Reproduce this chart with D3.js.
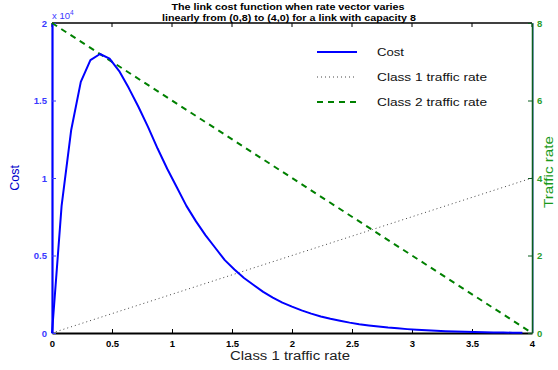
<!DOCTYPE html>
<html>
<head>
<meta charset="utf-8">
<script src="https://cdn.jsdelivr.net/npm/d3@7"></script>
<style>
  body { margin: 0; background: #fff; }
  svg { display: block; font-family: "Liberation Sans", Arial, sans-serif; }
</style>
</head>
<body>
<svg id="chart" width="558" height="370"></svg>
<script>
// Class 1 rate sampled along the path (0,8) -> (4,0)
const costX = [0, 0.08, 0.16, 0.24, 0.32, 0.40, 0.48, 0.56, 0.64, 0.72,
  0.80, 0.88, 0.96, 1.04, 1.12, 1.20, 1.28, 1.36, 1.44, 1.52,
  1.60, 1.68, 1.76, 1.84, 1.92, 2.00, 2.08, 2.16, 2.24, 2.32,
  2.40, 2.48, 2.56, 2.64, 2.72, 2.80, 2.88, 2.96, 3.04, 3.12,
  3.20, 3.28, 3.36, 3.44, 3.52, 3.60, 3.68, 3.76, 3.84, 3.92];
// Link cost, units of 1e4
const costY = [0, 0.82, 1.31, 1.62, 1.76, 1.80, 1.77, 1.69, 1.58, 1.46,
  1.33, 1.19, 1.06, 0.94, 0.82, 0.72, 0.63, 0.55, 0.47, 0.41,
  0.355, 0.31, 0.265, 0.228, 0.196, 0.170, 0.146, 0.125, 0.107, 0.092,
  0.079, 0.067, 0.057, 0.049, 0.042, 0.035, 0.030, 0.025, 0.021, 0.018,
  0.015, 0.012, 0.010, 0.008, 0.007, 0.005, 0.004, 0.003, 0.002, 0.001];
const rateX = [0, 4];
const class1Rate = [0, 4];
const class2Rate = [8, 0];

const xTicks = [0, 0.5, 1, 1.5, 2, 2.5, 3, 3.5, 4];
const costTicks = [0, 0.5, 1, 1.5, 2];
const rateTicks = [0, 2, 4, 6, 8];
const legendLabels = ['Cost', 'Class 1 traffic rate', 'Class 2 traffic rate'];

const svg = d3.select('#chart');
const margin = { top: 23, right: 26, bottom: 37, left: 52 };
const W = 558, H = 370;
const innerW = W - margin.left - margin.right;
const innerH = H - margin.top - margin.bottom;
const g = svg.append('g').attr('transform', `translate(${margin.left},${margin.top})`);

const x = d3.scaleLinear().domain([0, 4]).range([0, innerW]);
const yCost = d3.scaleLinear().domain([0, 2]).range([innerH, 0]);
const yRate = d3.scaleLinear().domain([0, 8]).range([innerH, 0]);

const blue = '#0000ff', tickBlue = '#3a3aff';
const green = '#008000', tickGreen = '#2a9d2a';

// top frame line with inward ticks
g.append('line').attr('x1', 0).attr('x2', innerW).attr('y1', 0).attr('y2', 0)
  .style('stroke', '#000').style('stroke-width', 1.5);
g.selectAll('line.top-tick').data(xTicks).enter().append('line')
  .attr('class', 'top-tick')
  .attr('x1', d => x(d)).attr('x2', d => x(d)).attr('y1', 0).attr('y2', 4)
  .style('stroke', '#000');

// bottom axis
const xAxis = g.append('g').attr('transform', `translate(0,${innerH})`)
  .call(d3.axisBottom(x).tickValues(xTicks).tickSizeInner(-4).tickSizeOuter(0).tickPadding(7)
    .tickFormat(d3.format('')));
xAxis.select('.domain').style('stroke', '#000').style('stroke-width', 2.2);
xAxis.selectAll('text').style('font-size', '9.5px').style('font-weight', 'bold').style('fill', '#000');

// left axis (cost)
const yAxisL = g.append('g')
  .call(d3.axisLeft(yCost).tickValues(costTicks).tickSizeInner(-4).tickSizeOuter(0).tickPadding(5)
    .tickFormat(d3.format('')));
yAxisL.select('.domain').style('stroke', blue).style('stroke-width', 2.2);
yAxisL.selectAll('.tick line').style('stroke', tickBlue);
yAxisL.selectAll('text').style('font-size', '9.5px').style('font-weight', 'bold').style('fill', tickBlue);

// right axis (traffic rate)
g.append('line').attr('x1', innerW + 1.5).attr('x2', innerW + 1.5).attr('y1', 0).attr('y2', innerH)
  .style('stroke', '#8fa8d8').style('stroke-width', 1);
const yAxisR = g.append('g').attr('transform', `translate(${innerW},0)`)
  .call(d3.axisRight(yRate).tickValues(rateTicks).tickSizeInner(-4).tickSizeOuter(0).tickPadding(5));
yAxisR.select('.domain').style('stroke', '#0b5e1e').style('stroke-width', 1.5);
yAxisR.selectAll('.tick line').style('stroke', '#0b5e1e');
yAxisR.selectAll('text').style('font-size', '9.5px').style('font-weight', 'bold').style('fill', tickGreen);

// series
const rateLine = d3.line().x((d, i) => x(rateX[i])).y(d => yRate(d));
g.append('path').datum(class1Rate)
  .attr('d', rateLine)
  .style('fill', 'none').style('stroke', '#444').style('stroke-width', 1)
  .style('stroke-dasharray', '1,3');

g.append('path').datum(class2Rate)
  .attr('d', rateLine)
  .style('fill', 'none').style('stroke', green).style('stroke-width', 2)
  .style('stroke-dasharray', '6,5');

const costLine = d3.line().x((d, i) => x(costX[i])).y(d => yCost(d));
g.append('path').datum(costY)
  .attr('d', costLine)
  .style('fill', 'none').style('stroke', blue).style('stroke-width', 2)
  .style('stroke-linejoin', 'round');

// exponent label
const expo = svg.append('text').attr('x', 52).attr('y', 19)
  .style('font-size', '9.5px').style('fill', tickBlue);
expo.append('tspan').text('x 10');
expo.append('tspan').attr('dy', -4).style('font-size', '6.5px').text('4');

// title
const title = svg.append('text').attr('text-anchor', 'middle')
  .style('font-size', '9px').style('font-weight', 'bold').style('fill', '#000');
title.append('tspan').attr('x', 288).attr('y', 10)
  .attr('textLength', 233).attr('lengthAdjust', 'spacingAndGlyphs')
  .text('The link cost function when rate vector varies');
title.append('tspan').attr('x', 289).attr('y', 20.5)
  .attr('textLength', 254).attr('lengthAdjust', 'spacingAndGlyphs')
  .text('linearly from (0,8) to (4,0) for a link with capacity 8');

// axis labels
svg.append('text').attr('x', 290).attr('y', 360)
  .attr('text-anchor', 'middle').style('font-size', '12.5px').style('fill', '#222')
  .attr('textLength', 120).attr('lengthAdjust', 'spacingAndGlyphs')
  .text('Class 1 traffic rate');
svg.append('text').attr('transform', `translate(19,${margin.top + innerH / 2}) rotate(-90)`)
  .attr('text-anchor', 'middle').style('font-size', '12.5px').style('fill', '#0000cc')
  .text('Cost');
svg.append('text').attr('transform', `translate(553,${margin.top + innerH / 2 - 6}) rotate(-90)`)
  .attr('text-anchor', 'middle').style('font-size', '12.5px').style('fill', '#1a9a1a')
  .attr('textLength', 72).attr('lengthAdjust', 'spacingAndGlyphs')
  .text('Traffic rate');

// legend
const legendStyles = [
  { stroke: blue, width: 2, dash: null, len: 27 },
  { stroke: '#444', width: 1, dash: '1,3', len: 110 },
  { stroke: green, width: 2, dash: '6,5', len: 110 }
];
const legend = svg.append('g').attr('transform', 'translate(317,52)');
legendLabels.forEach((label, i) => {
  const row = legend.append('g').attr('transform', `translate(0,${i * 25})`);
  row.append('line').attr('x1', 0).attr('x2', 40).attr('y1', 0).attr('y2', 0)
    .style('stroke', legendStyles[i].stroke).style('stroke-width', legendStyles[i].width)
    .style('stroke-dasharray', legendStyles[i].dash);
  row.append('text').attr('x', 60).attr('y', 4)
    .attr('textLength', legendStyles[i].len).attr('lengthAdjust', 'spacingAndGlyphs')
    .style('font-size', '11.5px').style('fill', '#111').text(label);
});
</script>
</body>
</html>
